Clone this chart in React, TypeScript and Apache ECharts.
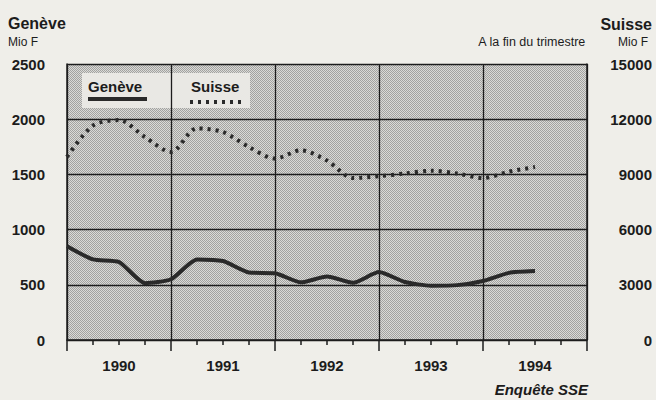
import React, { useEffect, useRef } from "react";
import * as echarts from "echarts";

const years = ["1990", "1991", "1992", "1993", "1994"];
// quarterly values, 1990 Q1 .. 1994 Q3
const geneve = [850, 730, 707, 515, 550, 730, 715, 611, 605, 522, 575, 518, 615, 525, 492, 497, 535, 608, 624];
const suisse = [9950, 11650, 11950, 11030, 10220, 11500, 11300, 10490, 9860, 10310, 9750, 8800, 8900, 9050, 9200, 9050, 8800, 9150, 9400];
const leftTicks = { min: 0, max: 2500, step: 500 };
const rightTicks = { min: 0, max: 15000, step: 3000 };

const INK = "#1c1c1c";
const PAGE = "#efeee9";
const FONT = "'Liberation Sans', Arial, Helvetica, sans-serif";

function makePattern() {
  const c = document.createElement("canvas");
  c.width = 2;
  c.height = 2;
  const ctx = c.getContext("2d")!;
  ctx.fillStyle = "#dadad7";
  ctx.fillRect(0, 0, 2, 2);
  ctx.fillStyle = "#a2a2a0";
  ctx.fillRect(0, 0, 1, 1);
  ctx.fillRect(1, 1, 1, 1);
  return c;
}

const plain = (v: number) => String(v);

export default function App() {
  const ref = useRef<HTMLDivElement>(null);
  useEffect(() => {
    if (!ref.current) return;
    const chart = echarts.init(ref.current, undefined, { renderer: "svg" });
    const nQuarters = years.length * 4;
    chart.setOption({
      animation: false,
      backgroundColor: PAGE,
      textStyle: { fontFamily: FONT },
      grid: {
        left: 67,
        right: 69,
        top: 64,
        bottom: 60,
        show: true,
        borderWidth: 0,
        backgroundColor: { image: makePattern(), repeat: "repeat" },
      },
      xAxis: [
        {
          type: "value",
          min: 0,
          max: nQuarters,
          interval: 4,
          axisLine: { show: true, lineStyle: { color: INK, width: 1.5 } },
          axisTick: { show: true, length: 11, lineStyle: { color: INK, width: 1.5 } },
          minorTick: { show: true, splitNumber: 4, length: 5, lineStyle: { color: INK, width: 1.5 } },
          splitLine: { show: true, lineStyle: { color: INK, width: 1.3 } },
          axisLabel: { show: false },
        },
        {
          type: "category",
          data: years,
          position: "bottom",
          axisLine: { show: false },
          axisTick: { show: false },
          splitLine: { show: false },
          axisLabel: { fontSize: 15, fontWeight: "bold", color: INK, margin: 18, fontFamily: FONT },
        },
      ],
      yAxis: [
        {
          type: "value",
          min: leftTicks.min,
          max: leftTicks.max,
          interval: leftTicks.step,
          axisLine: { show: true, lineStyle: { color: INK, width: 1.5 } },
          axisTick: { show: false },
          splitLine: { show: true, lineStyle: { color: INK, width: 1.3 } },
          axisLabel: { fontSize: 15, fontWeight: "bold", color: INK, margin: 22, fontFamily: FONT, formatter: plain },
        },
        {
          type: "value",
          position: "right",
          min: rightTicks.min,
          max: rightTicks.max,
          interval: rightTicks.step,
          axisLine: { show: true, lineStyle: { color: INK, width: 1.5 } },
          axisTick: { show: false },
          splitLine: { show: false },
          axisLabel: { fontSize: 15, fontWeight: "bold", color: INK, margin: 65, align: "right", fontFamily: FONT, formatter: plain },
        },
      ],
      series: [
        {
          name: "Genève",
          type: "line",
          xAxisIndex: 0,
          yAxisIndex: 0,
          data: geneve.map((v, i) => [i, v]),
          showSymbol: false,
          symbol: "none",
          smooth: 0.2,
          lineStyle: { color: "#2a2a2a", width: 4 },
        },
        {
          name: "Suisse",
          type: "line",
          xAxisIndex: 0,
          yAxisIndex: 1,
          data: suisse.map((v, i) => [i, v]),
          showSymbol: false,
          symbol: "none",
          smooth: 0.3,
          lineStyle: { color: "#2a2a2a", width: 4, type: [3, 5] },
        },
      ],
      graphic: [
        { type: "text", left: 8, top: 15, style: { text: "Genève", font: `bold 16px ${FONT}`, fill: INK } },
        { type: "text", left: 8, top: 36, style: { text: "Mio F", font: `12px ${FONT}`, fill: INK } },
        { type: "text", right: 4, top: 16, style: { text: "Suisse", font: `bold 16px ${FONT}`, fill: INK } },
        { type: "text", right: 8, top: 36, style: { text: "Mio F", font: `12px ${FONT}`, fill: INK } },
        { type: "text", right: 70, top: 35, style: { text: "A la fin du trimestre", font: `12.5px ${FONT}`, fill: INK } },
        { type: "text", right: 68, top: 382, style: { text: "Enquête SSE", font: `italic bold 15px ${FONT}`, fill: INK } },
        {
          type: "group",
          left: 82,
          top: 73,
          children: [
            { type: "rect", shape: { x: 0, y: 0, width: 168, height: 35 }, style: { fill: "#e9e8e4" } },
            { type: "text", x: 6, y: 6, style: { text: "Genève", font: `bold 15px ${FONT}`, fill: INK } },
            { type: "line", shape: { x1: 6, y1: 26, x2: 65, y2: 26 }, style: { stroke: "#2a2a2a", lineWidth: 4 } },
            { type: "text", x: 109, y: 6, style: { text: "Suisse", font: `bold 15px ${FONT}`, fill: INK } },
            { type: "line", shape: { x1: 108, y1: 29, x2: 160, y2: 29 }, style: { stroke: "#2a2a2a", lineWidth: 4, lineDash: [3, 5] } },
          ],
        },
      ],
    });
    return () => chart.dispose();
  }, []);
  return (
    <div
      ref={ref}
      style={{ position: "fixed", left: 0, top: 0, width: 656, height: 400, background: PAGE }}
    />
  );
}
